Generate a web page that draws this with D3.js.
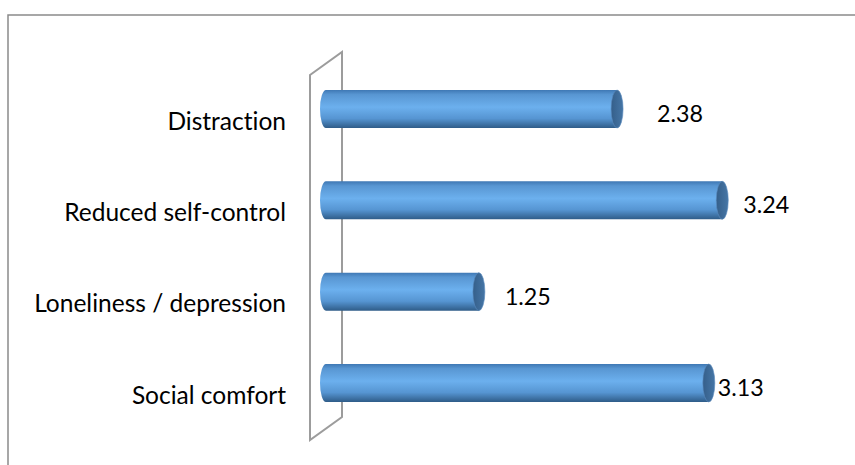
<!DOCTYPE html>
<html>
<head>
<meta charset="utf-8">
<script src="https://cdn.jsdelivr.net/npm/d3@7"></script>
<style>
  body { margin: 0; background: #fff; }
  #chart { width: 855px; height: 465px; }
  text { font-family: Lato, "Open Sans", sans-serif; fill: #000; font-variant-ligatures: none; }
</style>
</head>
<body>
<div id="chart"></div>
<script>
// data
var categories = ["Distraction", "Reduced self-control", "Loneliness / depression", "Social comfort"];
var values = [2.38, 3.24, 1.25, 3.13];
var valueLabels = ["2.38", "3.24", "1.25", "3.13"];

// layout only: where Excel put each data label past the cap
var labelNudge = [40, 21, 26, 9];

var W = 855, H = 465;

var svg = d3.select("#chart").append("svg")
    .attr("width", W)
    .attr("height", H);

var defs = svg.append("defs");
var grad = defs.append("linearGradient")
    .attr("id", "cyl")
    .attr("x1", 0).attr("y1", 0).attr("x2", 0).attr("y2", 1);
grad.append("stop").attr("offset", "0%").attr("stop-color", "#3f78b4");
grad.append("stop").attr("offset", "12%").attr("stop-color", "#5896d2");
grad.append("stop").attr("offset", "45%").attr("stop-color", "#6cb0ee");
grad.append("stop").attr("offset", "75%").attr("stop-color", "#5695d2");
grad.append("stop").attr("offset", "100%").attr("stop-color", "#2f5c88");

var capGrad = defs.append("linearGradient")
    .attr("id", "cap")
    .attr("x1", 0).attr("y1", 0).attr("x2", 1).attr("y2", 0);
capGrad.append("stop").attr("offset", "0%").attr("stop-color", "#355f8a");
capGrad.append("stop").attr("offset", "100%").attr("stop-color", "#4676a6");

// outer frame, runs past the right and bottom edges
svg.append("rect")
    .attr("x", 8).attr("y", 15)
    .attr("width", 900).attr("height", 500)
    .style("fill", "none")
    .style("stroke", "#8a8a8a")
    .style("stroke-width", 1.5);

var scaleX = d3.scaleLinear()
    .domain([0, 1])
    .range([326, 448.3]);

var scaleY = d3.scaleBand()
    .domain(categories)
    .range([63.35, 428.65])
    .paddingInner(0.584)
    .paddingOuter(0.292);

var bw = scaleY.bandwidth();
var rx = 6;

// the wall, seen edge-on
var wall = [[310, 75], [342, 52], [342, 417], [310, 440]];
svg.append("path")
    .attr("d", d3.line()(wall) + "Z")
    .style("fill", "#fff")
    .style("stroke", "#9c9c9c")
    .style("stroke-width", 2);

var bars = svg.append("g").attr("class", "bars");

var rows = bars.selectAll(".row")
    .data(categories)
    .enter().append("g")
    .attr("class", "row");

// cylinder body with rounded far end
rows.append("path")
    .attr("d", function(d, i) {
        var x0 = scaleX(0), x1 = scaleX(values[i]);
        var y0 = scaleY(d), y1 = y0 + bw, ry = bw / 2;
        return "M" + x0 + "," + y0 +
            "L" + x1 + "," + y0 +
            "L" + x1 + "," + y1 +
            "L" + x0 + "," + y1 +
            "A" + rx + "," + ry + " 0 0 1 " + x0 + "," + y0 + "Z";
    })
    .style("fill", "url(#cyl)");

// end cap
rows.append("ellipse")
    .attr("cx", function(d, i) { return scaleX(values[i]); })
    .attr("cy", function(d) { return scaleY(d) + bw / 2; })
    .attr("rx", rx)
    .attr("ry", bw / 2)
    .style("fill", "url(#cap)")
    .style("stroke", "#5a8cc0")
    .style("stroke-width", 0.6);

// category labels
var catText = svg.append("g").attr("class", "cats")
    .selectAll("text")
    .data(categories)
    .enter().append("text")
    .attr("x", 286)
    .attr("y", function(d) { return scaleY(d) + bw / 2 + 12; })
    .attr("dy", "0.35em")
    .attr("text-anchor", "end")
    .style("font-size", "20px")
    .text(function(d) { return d; });

// fit font size so the longest label matches the reference width
var longest = catText.filter(function(d) { return d === "Reduced self-control"; });
var w0 = longest.node().getComputedTextLength();
var fs = 20 * 222 / w0;
catText.style("font-size", fs + "px");

// value labels
var valText = svg.append("g").attr("class", "vals")
    .selectAll("text")
    .data(categories)
    .enter().append("text")
    .attr("x", function(d, i) { return scaleX(values[i]) + labelNudge[i]; })
    .attr("y", function(d) { return scaleY(d) + bw / 2 + 5; })
    .attr("dy", "0.35em")
    .style("font-size", "20px")
    .text(function(d, i) { return valueLabels[i]; });

var v0 = valText.filter(function(d, i) { return i === 1; }).node().getComputedTextLength();
valText.style("font-size", (20 * 46 / v0) + "px");
</script>
</body>
</html>
